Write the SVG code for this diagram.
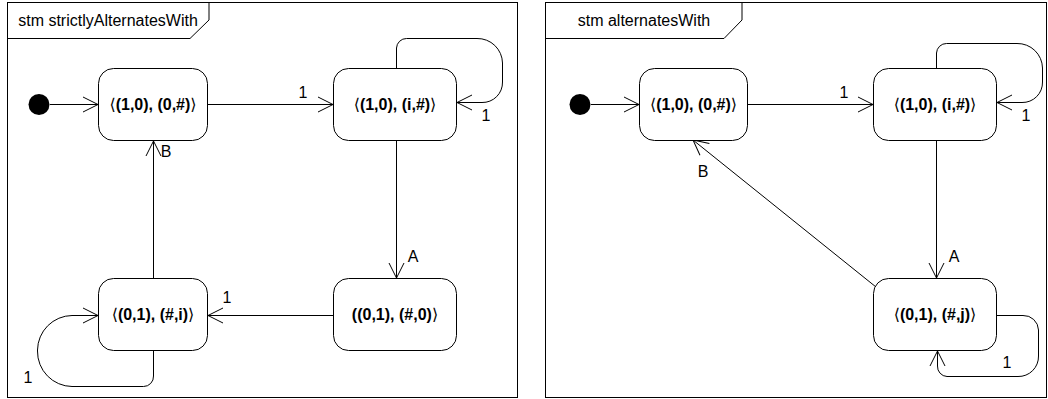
<svg xmlns="http://www.w3.org/2000/svg" width="1048" height="399" viewBox="0 0 1048 399">
<style>
.frame{fill:none;stroke:#000;stroke-width:1}
.state{fill:#fff;stroke:#000;stroke-width:1}
.st{font-family:"Liberation Sans","DejaVu Sans",Arial,sans-serif;font-size:16px;font-weight:bold;text-anchor:middle;fill:#000}
.b{font-weight:normal}
.title{font-family:"Liberation Sans",Arial,sans-serif;font-size:16px;text-anchor:middle;fill:#000}
.lbl{font-family:"Liberation Sans",Arial,sans-serif;font-size:16px;text-anchor:middle;fill:#000}
.edge{fill:none;stroke:#000;stroke-width:1;marker-end:url(#arr)}
</style>
<defs>
<marker id="arr" markerUnits="userSpaceOnUse" markerWidth="20" markerHeight="20" viewBox="-16 -10 20 20" refX="0" refY="0" orient="auto">
<path d="M-15,-7.5 L0,0 L-15,7.5" fill="none" stroke="#000" stroke-width="1"/>
</marker>
</defs>
<g id="frame-left">
<rect class="frame" x="7.5" y="2.5" width="510" height="395"/>
<path class="frame" d="M7.5,38.5 H190 L209,20 V2.5"/>
<text class="title" x="108" y="26">stm strictlyAlternatesWith</text>
</g>
<g id="frame-right">
<rect class="frame" x="545.5" y="2.5" width="501" height="395"/>
<path class="frame" d="M545.5,38.5 H724 L742,20 V2.5"/>
<text class="title" x="644" y="26">stm alternatesWith</text>
</g>
<g id="connectors">
<line class="edge" x1="50" y1="104.5" x2="98" y2="104.5"/>
<line class="edge" x1="207" y1="104.5" x2="333" y2="104.5"/>
<path class="edge" d="M396.5,68 V48 A10,10 0 0 1 406.5,38.5 H477 A25,25 0 0 1 502.5,63 V82 A20,20 0 0 1 482,102.5 H457"/>
<line class="edge" x1="396.5" y1="140" x2="396.5" y2="278"/>
<line class="edge" x1="334" y1="315.5" x2="208" y2="315.5"/>
<line class="edge" x1="153.5" y1="278" x2="153.5" y2="141"/>
<path class="edge" d="M153.5,351 V376 A10,10 0 0 1 143.5,386.5 H72 A35,35 0 0 1 37.5,351 V350 A35,35 0 0 1 72,315.5 H98"/>
<line class="edge" x1="591" y1="104.5" x2="639" y2="104.5"/>
<line class="edge" x1="747" y1="104.5" x2="873" y2="104.5"/>
<path class="edge" d="M936.5,68 V53 A10,10 0 0 1 946.5,43.5 H1017 A25,25 0 0 1 1042.5,68 V82 A20,20 0 0 1 1022,102.5 H997"/>
<line class="edge" x1="936.5" y1="140" x2="936.5" y2="278"/>
<path class="edge" d="M997,315.5 H1023 A15,15 0 0 1 1038.5,330 V356 A20,20 0 0 1 1018,376.5 H947 A10,10 0 0 1 937.5,366 V351"/>
<line class="edge" x1="876" y1="287" x2="693" y2="140"/>
<text class="lbl" x="303" y="98">1</text>
<text class="lbl" x="486" y="121">1</text>
<text class="lbl" x="413" y="262">A</text>
<text class="lbl" x="227" y="303">1</text>
<text class="lbl" x="28" y="383">1</text>
<text class="lbl" x="166" y="157">B</text>
<text class="lbl" x="844" y="98">1</text>
<text class="lbl" x="1026" y="121">1</text>
<text class="lbl" x="954" y="262">A</text>
<text class="lbl" x="703" y="177">B</text>
<text class="lbl" x="1007" y="368">1</text>
</g>
<g id="init-left"><circle cx="39" cy="104.5" r="10.5" fill="#000"/></g>
<g id="init-right"><circle cx="580" cy="104.5" r="10.5" fill="#000"/></g>
<g id="L1"><rect class="state" x="98.5" y="68.5" width="109" height="72" rx="15"/><text class="st" x="153" y="110"><tspan class="b">⟨</tspan>(1,0), (0,#)<tspan class="b">⟩</tspan></text></g>
<g id="L2"><rect class="state" x="333.5" y="68.5" width="123" height="72" rx="15"/><text class="st" x="395" y="110"><tspan class="b">⟨</tspan>(1,0), (i,#)<tspan class="b">⟩</tspan></text></g>
<g id="L3"><rect class="state" x="333.5" y="278.5" width="123" height="72" rx="15"/><text class="st" x="395" y="320">((0,1), (#,0)<tspan class="b">⟩</tspan></text></g>
<g id="L4"><rect class="state" x="98.5" y="278.5" width="109" height="72" rx="15"/><text class="st" x="153" y="320"><tspan class="b">⟨</tspan>(0,1), (#,i)<tspan class="b">⟩</tspan></text></g>
<g id="R1"><rect class="state" x="639.5" y="68.5" width="108" height="72" rx="15"/><text class="st" x="693.5" y="110"><tspan class="b">⟨</tspan>(1,0), (0,#)<tspan class="b">⟩</tspan></text></g>
<g id="R2"><rect class="state" x="873.5" y="68.5" width="123" height="72" rx="15"/><text class="st" x="935" y="110"><tspan class="b">⟨</tspan>(1,0), (i,#)<tspan class="b">⟩</tspan></text></g>
<g id="R3"><rect class="state" x="873.5" y="278.5" width="123" height="72" rx="15"/><text class="st" x="935" y="320"><tspan class="b">⟨</tspan>(0,1), (#,j)<tspan class="b">⟩</tspan></text></g>
</svg>
